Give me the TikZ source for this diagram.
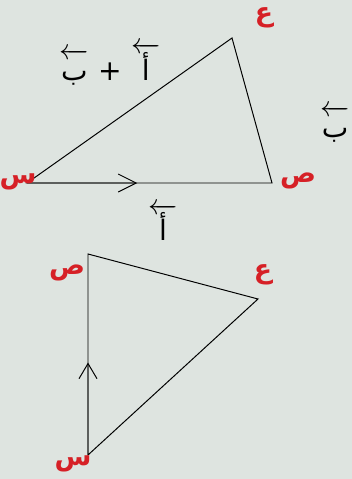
\documentclass[tikz,border=0pt]{standalone}
\usepackage{fontspec}
\newfontfamily\arabicfont[Script=Arabic]{DejaVu Sans}
\TeXXeTstate=1
\usepackage{tikz}
\usetikzlibrary{arrows.meta,calc}
\definecolor{bgpaper}{RGB}{222,228,224}
\definecolor{lblred}{RGB}{214,32,38}
\newcommand{\vecar}[1]{$\overleftarrow{\hbox{\rule{0pt}{0.8em}\arabicfont\beginR #1\endR}}$}

\begin{document}
\begin{tikzpicture}[x=0.025cm,y=-0.025cm,
  side/.style={line width=0.7pt},
  vtx/.style={text=lblred, inner sep=0pt,
              font=\arabicfont\bfseries\fontsize{19}{20}\selectfont},
  lbl/.style={inner sep=0pt, font=\arabicfont\fontsize{20}{22}\selectfont},
  chev/.style={-{Straight Barb[length=#1, width=0.45cm]}}
]
  \fill[bgpaper] (0,0) rectangle (352,479);
  \clip (0,0) rectangle (352,479);

  % first triangle
  \coordinate (s1) at (27,183);
  \coordinate (p1) at (272,183);
  \coordinate (a1) at (232,38);
  \coordinate (m1) at ($(s1)!0.45!(p1)$);
  \draw[side] (s1) -- (p1) -- (a1) -- cycle;
  \draw[side, chev=0.45cm] (s1) -- (m1);

  \node[vtx] (s1lbl) at (18,182) {\beginR س\endR};
  \node[vtx] (p1lbl) at (298,181) {\beginR ص\endR};
  \node[vtx] (a1lbl) at (264,18) {\beginR ع\endR};

  \node[lbl] (sum)  at (110,64) {\vecar{ب}\,\,+\,\,\vecar{أ}};
  \node[lbl] (veca) at (163,222) {\vecar{أ}};
  \node[lbl] (vecb) at (335,124) {\vecar{ب}};

  % second triangle
  \coordinate (p2) at (88,254);
  \coordinate (a2) at (258,299);
  \coordinate (s2) at (88,455);
  \coordinate (m2) at ($(s2)!0.46!(p2)$);
  \draw[side] (s2) -- (p2) -- (a2) -- cycle;
  \draw[side, chev=0.38cm] (s2) -- (m2);

  \node[vtx] (p2lbl) at (67,273) {\beginR ص\endR};
  \node[vtx] (a2lbl) at (263,275) {\beginR ع\endR};
  \node[vtx] (s2lbl) at (73,464) {\beginR س\endR};
\end{tikzpicture}
\end{document}
